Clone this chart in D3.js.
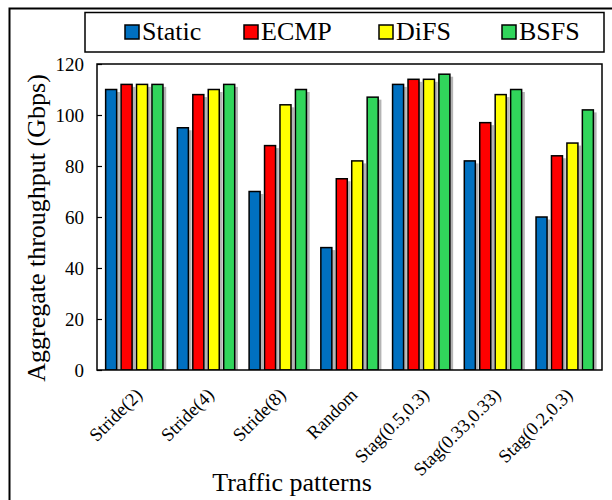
<!DOCTYPE html>
<html>
<head>
<meta charset="utf-8">
<script src="https://cdn.jsdelivr.net/npm/d3@7"></script>
<style>
  body { margin: 0; background: #fff; }
  svg text { font-family: "Liberation Serif", "Times New Roman", serif; fill: #000; }
</style>
</head>
<body>
<svg id="chart" width="612" height="500" font-family="Liberation Serif, serif"></svg>
<script>
// Categories and series
const patterns = ["Stride(2)", "Stride(4)", "Stride(8)", "Random",
  "Stag(0.5,0.3)", "Stag(0.33,0.33)", "Stag(0.2,0.3)"];
const schemes = ["Static", "ECMP", "DiFS", "BSFS"];
const colors = ["#0070c0", "#ff0000", "#ffff00", "#31d55b"];

// Aggregate throughput per scheme (Gbps)
const staticVals = [110, 95, 70, 48, 112, 82, 60];
const ecmpVals = [112, 108, 88, 75, 114, 97, 84];
const difsVals = [112, 110, 104, 82, 114, 108, 89];
const bsfsVals = [112, 112, 110, 107, 116, 110, 102];
const yTicks = [0, 20, 40, 60, 80, 100, 120];

const series = [staticVals, ecmpVals, difsVals, bsfsVals];
const serif = '"Liberation Serif", "Times New Roman", serif';

const svg = d3.select('#chart');

// the margin convention
const margin = { top: 64, right: 10, bottom: 130, left: 97 };
const innerWidth = 602 - margin.left;
const innerHeight = 370 - margin.top;

// outer frame (runs off the right and bottom edges)
svg.append('rect')
  .attr('x', 9.5).attr('y', 8.5)
  .attr('width', 640).attr('height', 520)
  .attr('fill', 'none').attr('stroke', '#000').attr('stroke-width', 2);

const xScale = d3.scaleBand()
  .domain(patterns)
  .range([0, innerWidth])
  .paddingInner(0.18)
  .paddingOuter(0.11);

const xSub = d3.scaleBand()
  .domain(schemes)
  .range([0, xScale.bandwidth()])
  .paddingInner(0.19);

const yScale = d3.scaleLinear()
  .domain([0, 120])
  .range([innerHeight, 0]);

const g = svg.append('g')
  .attr('transform', `translate(${margin.left}, ${margin.top})`);

svg.append('defs').append('clipPath').attr('id', 'plotclip')
  .append('rect').attr('width', innerWidth).attr('height', innerHeight);

// flatten to one record per bar
const bars = [];
patterns.forEach((p, i) => {
  schemes.forEach((s, j) => {
    bars.push({ pattern: p, scheme: s, value: series[j][i], color: colors[j] });
  });
});

const barG = g.append('g').attr('clip-path', 'url(#plotclip)');

// soft shadows behind the bars
barG.selectAll('rect.shadow').data(bars)
  .enter().append('rect')
  .attr('class', 'shadow')
  .attr('x', d => xScale(d.pattern) + xSub(d.scheme) + 2.5)
  .attr('y', d => yScale(d.value) + 2.5)
  .attr('width', xSub.bandwidth())
  .attr('height', d => innerHeight - yScale(d.value))
  .attr('fill', '#b4b4b4');

barG.selectAll('rect.bar').data(bars)
  .enter().append('rect')
  .attr('class', 'bar')
  .attr('x', d => xScale(d.pattern) + xSub(d.scheme) + 0.75)
  .attr('y', d => yScale(d.value))
  .attr('width', xSub.bandwidth() - 1.5)
  .attr('height', d => innerHeight - yScale(d.value))
  .attr('fill', d => d.color)
  .attr('stroke', '#000')
  .attr('stroke-width', 1.5);

// plot frame
g.append('rect')
  .attr('width', innerWidth).attr('height', innerHeight)
  .attr('fill', 'none').attr('stroke', '#000').attr('stroke-width', 1.5);

// y axis with inward ticks
const yAxis = g.append('g')
  .call(d3.axisLeft(yScale).tickValues(yTicks).tickSize(-5).tickPadding(13))
  .attr('font-family', serif)
  .attr('font-size', 19);
yAxis.select('.domain').remove();
yAxis.selectAll('line').attr('stroke', '#000').attr('stroke-width', 1.2);

// x labels, rotated
g.append('g').selectAll('text').data(patterns)
  .enter().append('text')
  .attr('transform', d => `translate(${xScale(d) + xScale.bandwidth() / 2 + 9}, ${innerHeight + 26}) rotate(-45)`)
  .attr('text-anchor', 'end')
  .attr('font-size', 18.5)
  .text(d => d);

// axis titles
svg.append('text')
  .attr('transform', 'translate(45, 228) rotate(-90)')
  .attr('text-anchor', 'middle')
  .attr('font-size', 26)
  .text('Aggregate throughput (Gbps)');

svg.append('text')
  .attr('x', 292).attr('y', 491)
  .attr('text-anchor', 'middle')
  .attr('font-size', 26)
  .text('Traffic patterns');

// legend
const legend = svg.append('g');
legend.append('rect')
  .attr('x', 85).attr('y', 12.5)
  .attr('width', 519).attr('height', 39.5)
  .attr('fill', '#fff').attr('stroke', '#000').attr('stroke-width', 1.5);

const legendX = [125, 244, 379, 502];
const item = legend.selectAll('g.item').data(schemes)
  .enter().append('g')
  .attr('class', 'item')
  .attr('transform', (d, i) => `translate(${legendX[i]}, 25)`);

item.append('rect')
  .attr('width', 14).attr('height', 14)
  .attr('fill', (d, i) => colors[i])
  .attr('stroke', '#000').attr('stroke-width', 1.5);

item.append('text')
  .attr('x', 17).attr('y', 15)
  .attr('font-size', 26)
  .text(d => d);
</script>
</body>
</html>
